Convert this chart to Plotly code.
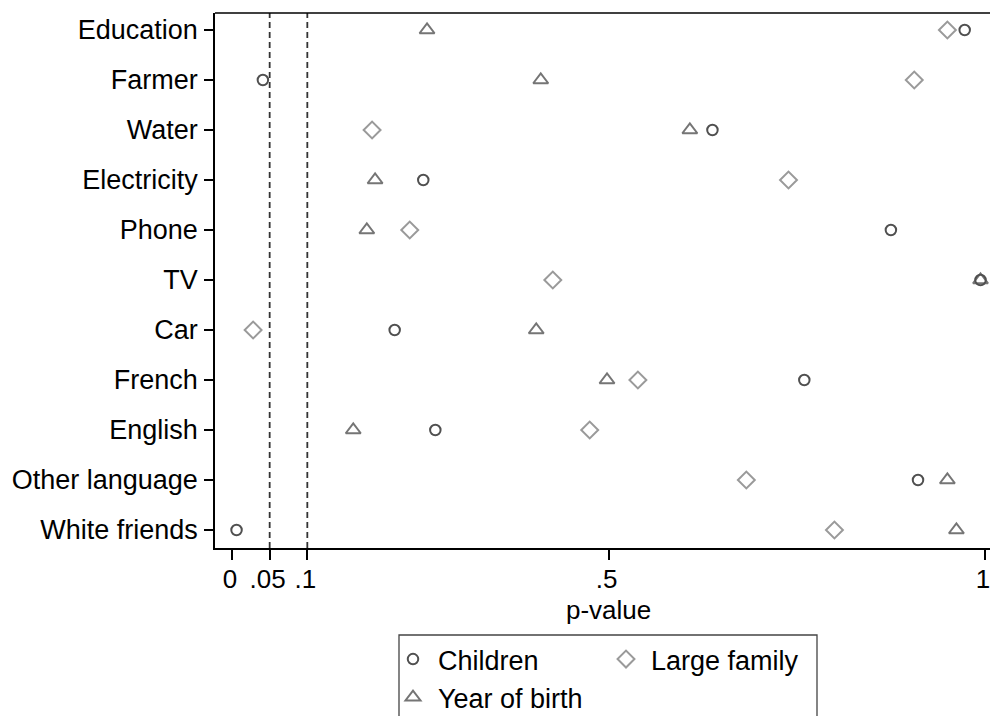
import plotly.graph_objects as go

categories = ["Education", "Farmer", "Water", "Electricity", "Phone", "TV",
              "Car", "French", "English", "Other language", "White friends"]

children = [0.973, 0.041, 0.638, 0.254, 0.875, 0.994, 0.216, 0.760, 0.270, 0.911, 0.006]
year_of_birth = [0.259, 0.410, 0.608, 0.190, 0.179, 0.994, 0.404, 0.498, 0.161, 0.950, 0.962]
large_family = [0.950, 0.906, 0.186, 0.739, 0.236, 0.426, 0.028, 0.539, 0.475, 0.683, 0.800]

thresholds = [0.05, 0.1]
tick_vals = [0, 0.05, 0.1, 0.5, 1]
tick_text = ["0", ".05", ".1", ".5", "1"]

FONT = "Liberation Sans, Arial, sans-serif"
W, H = 990, 716
L, R, T, B = 215, 0, 13, 168
pw, ph = W - L - R, H - T - B


def px_x(p):
    return (p - L) / pw


def px_y(p):
    return (H - B - p) / ph


fig = go.Figure()

fig.add_trace(go.Scatter(
    x=large_family, y=categories, mode="markers", name="Large family", cliponaxis=False,
    marker=dict(symbol="diamond-open", size=13, color="#9a9a9a", line=dict(width=2, color="#9a9a9a")),
    legend="legend2"))
fig.add_trace(go.Scatter(
    x=year_of_birth, y=categories, mode="markers", name="Year of birth", cliponaxis=False,
    marker=dict(symbol="triangle-up-open", size=13, color="#757575", line=dict(width=2, color="#757575")),
    legend="legend"))
fig.add_trace(go.Scatter(
    x=children, y=categories, mode="markers", name="Children", cliponaxis=False,
    marker=dict(symbol="circle-open", size=10.5, color="#505050", line=dict(width=2, color="#505050")),
    legend="legend"))

for t in thresholds:
    fig.add_shape(type="line", xref="x", yref="paper", x0=t, x1=t, y0=0, y1=1,
                  line=dict(color="#333333", width=1.8, dash="6px,4px"), layer="below")

# legend frame
fig.add_shape(type="rect", xref="paper", yref="paper",
              x0=px_x(399), x1=px_x(817), y0=px_y(635), y1=px_y(730),
              line=dict(color="#444444", width=1.3), fillcolor="rgba(0,0,0,0)")

# x-axis title
fig.add_annotation(text="p-value", xref="paper", yref="paper",
                   x=px_x(608), y=px_y(610), xanchor="center", yanchor="middle",
                   showarrow=False, font=dict(size=26))

fig.update_layout(
    width=W, height=H,
    margin=dict(l=L, r=R, t=T, b=B, autoexpand=False),
    paper_bgcolor="white", plot_bgcolor="white",
    font=dict(family=FONT, size=27, color="black"),
    showlegend=True,
    legend=dict(x=px_x(388), y=px_y(635), xanchor="left", yanchor="top",
                orientation="v", traceorder="reversed", bgcolor="rgba(0,0,0,0)",
                font=dict(size=27), itemwidth=40, tracegroupgap=0),
    legend2=dict(x=px_x(601), y=px_y(635), xanchor="left", yanchor="top",
                 orientation="v", bgcolor="rgba(0,0,0,0)",
                 font=dict(size=27), itemwidth=40),
    xaxis=dict(range=[-0.0226, 1.0066], tickvals=tick_vals, ticktext=tick_text,
               ticks="outside", ticklen=10, tickwidth=1.5, tickcolor="black",
               showline=True, linecolor="black", linewidth=1.5, mirror=False,
               showgrid=False, zeroline=False, automargin=False,
               ticklabeloverflow="allow", ticklabelshift=-2, ticklabelstandoff=-3,
               tickfont=dict(size=26)),
    yaxis=dict(type="category", categoryorder="array", categoryarray=categories,
               range=[10.36, -0.34], automargin=False,
               ticks="outside", ticklen=9, tickwidth=1.5, tickcolor="black",
               showline=True, linecolor="black", linewidth=1.5,
               showgrid=False, zeroline=False, ticklabelstandoff=1,
               tickfont=dict(size=27)),
)

# top frame line
fig.add_shape(type="line", xref="paper", yref="paper", x0=0, x1=1, y0=1, y1=1,
              line=dict(color="black", width=1.5))

fig.write_html("out.html", config={"displayModeBar": False},
               post_script="document.body.style.margin='0px';document.body.style.overflow='hidden';")
